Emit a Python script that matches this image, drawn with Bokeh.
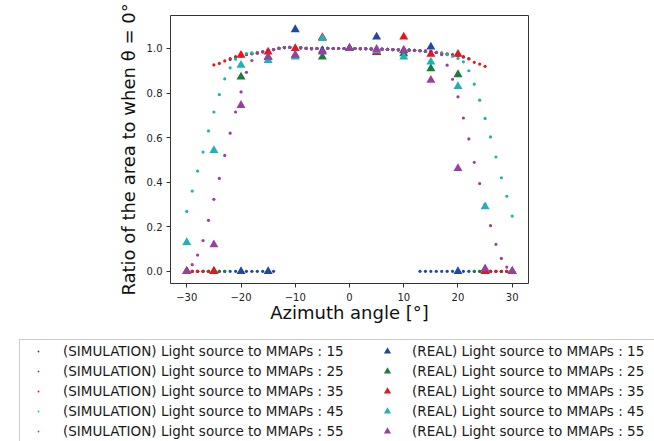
from bokeh.plotting import figure
from bokeh.models import Range1d, FixedTicker, NumeralTickFormatter, Legend, LegendItem
from bokeh.embed import file_html
from bokeh.resources import INLINE

FONT = "DejaVu Sans"

# ---------------- data ----------------
angles_sim = [-30, -29, -28, -27, -26, -25, -24, -23, -22, -21, -20, -19, -18, -17, -16,
              -15, -14, -13, -12, -11, -10, -9, -8, -7, -6, -5, -4, -3, -2, -1, 0,
              1, 2, 3, 4, 5, 6, 7, 8, 9, 10, 11, 12, 13, 14, 15,
              16, 17, 18, 19, 20, 21, 22, 23, 24, 25, 26, 27, 28, 29, 30]

sim_15 = [0, 0, 0, 0, 0, 0, 0, 0, 0, 0, 0, 0, 0, 0, 0, 0, 0,
          1.001, 1.004, 1.005, 1.004, 1.003, 1.001, 0.999, 1.000, 1.002, 1.001, 1.000, 1.000, 1.000,
          1.000, 1.000, 0.999, 0.999, 0.998, 0.997, 0.997, 0.996, 0.995, 0.994, 0.993, 0.993, 0.992,
          0, 0, 0, 0, 0, 0, 0, 0, 0, 0, 0, 0, 0, 0, 0, 0, 0, 0]

sim_25 = [0, 0, 0, 0, 0, 0, 0, 0,
          0.950, 0.959, 0.966, 0.972, 0.976, 0.980,
          0.985, 0.990, 0.995, 1.001, 1.004, 1.005, 1.004, 1.003, 1.001, 0.999, 1.000, 1.002, 1.001,
          1.000, 1.000, 1.000, 1.000, 1.000, 0.999, 0.999, 0.998, 0.997, 0.997, 0.996, 0.995, 0.994,
          0.993, 0.993, 0.992, 0.990, 0.988, 0.986, 0.983,
          0.978, 0.974, 0.970, 0.966, 0.961, 0.955,
          0, 0, 0, 0, 0, 0, 0, 0]

sim_35 = [0, 0, 0, 0, 0,
          0.926, 0.933, 0.944, 0.955, 0.964, 0.970, 0.975, 0.978, 0.981,
          0.985, 0.990, 0.995, 1.001, 1.004, 1.005, 1.004, 1.003, 1.001, 0.999, 1.000, 1.002, 1.001,
          1.000, 1.000, 1.000, 1.000, 1.000, 0.999, 0.999, 0.998, 0.997, 0.997, 0.996, 0.995, 0.994,
          0.993, 0.993, 0.992, 0.990, 0.988, 0.986, 0.983,
          0.979, 0.976, 0.972, 0.968, 0.964, 0.953, 0.938, 0.930, 0.920,
          0, 0, 0, 0, 0]

sim_45 = [0.269, 0.360, 0.450, 0.535, 0.630, 0.715, 0.793, 0.864, 0.913, 0.952, 0.966, 0.977,
          0.980, 0.982,
          0.985, 0.990, 0.995, 1.001, 1.004, 1.005, 1.004, 1.003, 1.001, 0.999, 1.000, 1.002, 1.001,
          1.000, 1.000, 1.000, 1.000, 1.000, 0.999, 0.999, 0.998, 0.997, 0.997, 0.996, 0.995, 0.994,
          0.993, 0.993, 0.992, 0.990, 0.988, 0.986, 0.983,
          0.980, 0.972, 0.965, 0.955, 0.940, 0.900, 0.840, 0.768, 0.686, 0.603, 0.513, 0.420,
          0.337, 0.248]

sim_55 = [0.000, 0.030, 0.073, 0.138, 0.229, 0.323, 0.417, 0.520, 0.620, 0.715, 0.805, 0.893,
          0.946, 0.979,
          0.985, 0.990, 0.995, 1.001, 1.004, 1.005, 1.004, 1.003, 1.001, 0.999, 1.000, 1.002, 1.001,
          1.000, 1.000, 1.000, 1.000, 1.000, 0.999, 0.999, 0.998, 0.997, 0.997, 0.996, 0.995, 0.994,
          0.993, 0.993, 0.992, 0.990, 0.988, 0.986, 0.982,
          0.972, 0.925, 0.862, 0.783, 0.688, 0.594, 0.489, 0.394, 0.300, 0.205, 0.121, 0.058,
          0.019, 0.000]

angles_real = [-30, -25, -20, -15, -10, -5, 0, 5, 10, 15, 20, 25, 30]
real_15 = [0, 0, 0, 0, 1.085, 0.990, 1.000, 1.052, 0.990, 1.007, 0, 0, 0]
real_25 = [0, 0, 0.872, 0.960, 0.970, 0.962, 1.000, 0.985, 0.977, 0.910, 0.883, 0, 0]
real_35 = [0, 0, 0.970, 0.985, 1.000, 1.050, 1.000, 0.982, 1.052, 0.974, 0.974, 0, 0]
real_45 = [0.130, 0.543, 0.925, 0.947, 0.962, 1.045, 1.000, 0.990, 0.962, 0.940, 0.830, 0.290, 0]
real_55 = [0, 0.120, 0.745, 0.962, 0.970, 0.985, 1.000, 0.997, 0.992, 0.858, 0.462, 0.012, 0]

distances = ["15", "25", "35", "45", "55"]
colors = ["#2146a3", "#1a7d3b", "#e8141e", "#1cb2b8", "#9a3ea0"]

x_ticks = [-30, -20, -10, 0, 10, 20, 30]
x_tick_labels = ["\u221230", "\u221220", "\u221210", "0", "10", "20", "30"]
y_ticks = [0.0, 0.2, 0.4, 0.6, 0.8, 1.0]

sim_series = [sim_15, sim_25, sim_35, sim_45, sim_55]
real_series = [real_15, real_25, real_35, real_45, real_55]
for s in sim_series:
    assert len(s) == len(angles_sim), len(s)

# ---------------- main plot ----------------
p = figure(width=654, height=330, output_backend="svg", toolbar_location=None,
           x_range=Range1d(-33, 33), y_range=Range1d(-0.0546, 1.148),
           min_border_left=170, min_border_right=126, min_border_top=15, min_border_bottom=47,
           background_fill_color="white", border_fill_color="white")
p.grid.visible = False
p.outline_line_color = "#333333"
p.outline_line_width = 1
p.outline_line_alpha = 1.0

for ys, c in zip(sim_series, colors):
    p.scatter(angles_sim, ys, marker="circle", size=3.2, fill_color=c, line_color=None)

for ys, c in zip(real_series, colors):
    p.scatter(angles_real, ys, marker="triangle", size=9, fill_color=c, line_color=None)

for ax in (p.xaxis[0], p.yaxis[0]):
    ax.axis_line_color = None
    ax.major_tick_line_color = "#333333"
    ax.major_tick_out = 4
    ax.major_tick_in = 0
    ax.minor_tick_line_color = None
    ax.major_label_text_font = FONT
    ax.major_label_text_font_size = "10px"
    ax.major_label_text_color = "#222222"
    ax.axis_label_text_font = FONT
    ax.axis_label_text_font_size = "18px"
    ax.axis_label_text_font_style = "normal"
    ax.axis_label_text_color = "#111111"

p.xaxis[0].ticker = FixedTicker(ticks=x_ticks)
p.xaxis[0].major_label_overrides = {t: l for t, l in zip(x_ticks, x_tick_labels)}
p.xaxis[0].major_label_standoff = 5
p.xaxis[0].axis_label = "Azimuth angle [\u00b0]"
p.xaxis[0].axis_label_standoff = -2

p.yaxis[0].ticker = FixedTicker(ticks=y_ticks)
p.yaxis[0].formatter = NumeralTickFormatter(format="0.0")
p.yaxis[0].major_label_standoff = 4
p.yaxis[0].axis_label = "Ratio of the area to when \u03b8 = 0\u00b0"
p.yaxis[0].axis_label_standoff = 5

# ---------------- legend panel (separate root, directly below) ----------------
# Same series again, but with a y range above all values, so only the legend shows.
lf = figure(width=654, height=111, output_backend="svg", toolbar_location=None,
            x_axis_type=None, y_axis_type=None, x_range=Range1d(-33, 33), y_range=Range1d(5, 6),
            min_border_left=0, min_border_right=0, min_border_top=0, min_border_bottom=0,
            outline_line_color=None, background_fill_color="white", border_fill_color="white")
lf.grid.visible = False

sim_proxies = []
real_proxies = []
for ys, c in zip(sim_series, colors):
    sim_proxies.append(lf.scatter(angles_sim, ys, marker="dot", size=4, fill_color=c, line_color=c))
for ys, c in zip(real_series, colors):
    real_proxies.append(lf.scatter(angles_real, ys, marker="triangle", size=9, fill_color=c, line_color=None))

items = []
for d, r in zip(distances, sim_proxies):
    items.append(LegendItem(label="(SIMULATION) Light source to MMAPs : " + d, renderers=[r]))
for d, r in zip(distances, real_proxies):
    items.append(LegendItem(label="(REAL) Light source to MMAPs : " + d, renderers=[r]))

legend = Legend(items=items, location=(19, -2), orientation="vertical", nrows=5,
                padding=2, margin=0, spacing=2, label_height=18, glyph_height=18,
                glyph_width=32, label_standoff=9, label_width=306,
                label_text_font=FONT, label_text_font_size="13.5px",
                label_text_color="#1a1a1a",
                border_line_color="#cccccc", border_line_width=1, border_line_alpha=1.0,
                background_fill_color="white", background_fill_alpha=1.0)
lf.add_layout(legend)

html = file_html([p, lf], INLINE)
open("out.html", "w").write(html)
